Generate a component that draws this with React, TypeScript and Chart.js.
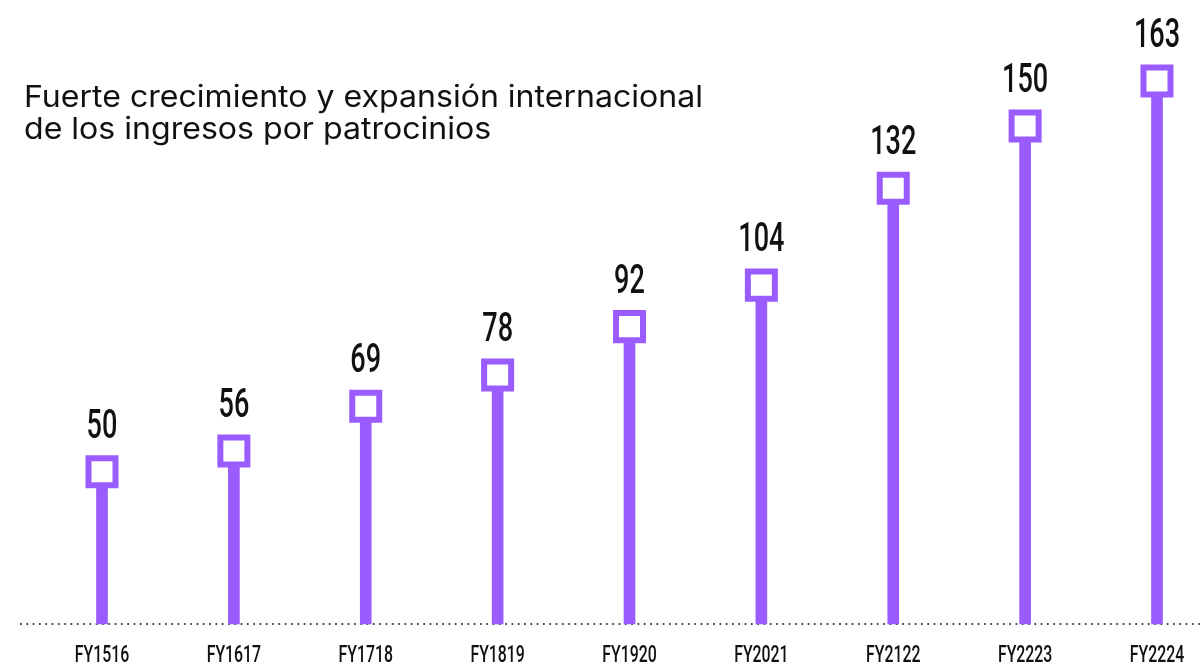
import React, { useEffect, useRef } from "react";
import { Chart, registerables } from "chart.js";

Chart.register(...registerables);

const categories = ["FY1516", "FY1617", "FY1718", "FY1819", "FY1920", "FY2021", "FY2122", "FY2223", "FY2224"];
const values = [50, 56, 69, 78, 92, 104, 132, 150, 163];
const titleLines = ["Fuerte crecimiento y expansión internacional", "de los ingresos por patrocinios"];

const PURPLE = "#9b5cff";
const Y_MIN = 6;
const Y_MAX = 179.2;

const drawScaled = (ctx: CanvasRenderingContext2D, text: string, x: number, y: number, sx: number) => {
  ctx.save();
  ctx.translate(x, y);
  ctx.scale(sx, 1);
  ctx.fillText(text, 0, 0);
  ctx.restore();
};

const overlayPlugin = {
  id: "overlay",
  beforeDatasetsDraw(chart: any) {
    const ctx: CanvasRenderingContext2D = chart.ctx;
    const y = chart.chartArea.bottom;
    ctx.save();
    ctx.fillStyle = "#333";
    for (let x = 21; x < chart.width; x += 6.3) {
      ctx.beginPath();
      ctx.arc(x, y, 1.05, 0, Math.PI * 2);
      ctx.fill();
    }
    ctx.restore();
  },
  afterDatasetsDraw(chart: any) {
    const ctx: CanvasRenderingContext2D = chart.ctx;
    const meta = chart.getDatasetMeta(1);
    const xScale = chart.scales.x;
    ctx.save();
    ctx.fillStyle = "#111";
    ctx.textAlign = "center";
    ctx.textBaseline = "alphabetic";
    ctx.font = "500 41px Roboto";
    meta.data.forEach((pt: any, i: number) => {
      drawScaled(ctx, String(values[i]), pt.x, pt.y - 34, 0.66);
    });
    ctx.font = "500 24px Roboto";
    categories.forEach((c, i) => {
      drawScaled(ctx, c, xScale.getPixelForValue(i), chart.chartArea.bottom + 38, 0.66);
    });
    // title
    ctx.textAlign = "left";
    ctx.font = "400 30px Inter";
    const w0 = ctx.measureText(titleLines[0]).width;
    const sx = Math.min(1.15, Math.max(0.85, 679 / w0));
    drawScaled(ctx, titleLines[0], 24, 107, sx);
    drawScaled(ctx, titleLines[1], 24, 139, sx);
    ctx.restore();
  },
};

export default function App() {
  const ref = useRef<HTMLCanvasElement | null>(null);
  useEffect(() => {
    document.body.style.margin = "0";
    if (!ref.current) return;
    const chart = new Chart(ref.current, {
      type: "bar",
      data: {
        labels: categories,
        datasets: [
          {
            type: "bar",
            data: values,
            backgroundColor: PURPLE,
            barThickness: 11,
            base: Y_MIN,
            order: 1,
            clip: false as any,
          } as any,
          {
            type: "line",
            data: values,
            showLine: false,
            pointStyle: "rect",
            pointRadius: 19.1,
            pointHoverRadius: 19.1,
            pointBorderWidth: 6,
            pointHoverBorderWidth: 6,
            pointBackgroundColor: "#ffffff",
            pointBorderColor: PURPLE,
            order: 0,
            clip: false as any,
          } as any,
        ],
      },
      options: {
        animation: false,
        responsive: true,
        maintainAspectRatio: false,
        events: [],
        layout: { padding: { left: 102, right: 45, top: 0, bottom: 41 } },
        plugins: { legend: { display: false }, tooltip: { enabled: false }, title: { display: false } },
        scales: {
          x: { display: false, offset: false, grid: { offset: false } },
          y: { display: false, min: Y_MIN, max: Y_MAX },
        },
      },
      plugins: [overlayPlugin],
    });
    return () => chart.destroy();
  }, []);
  return (
    <div style={{ width: 1202, height: 665, position: "relative" }}>
      <canvas ref={ref} />
    </div>
  );
}
